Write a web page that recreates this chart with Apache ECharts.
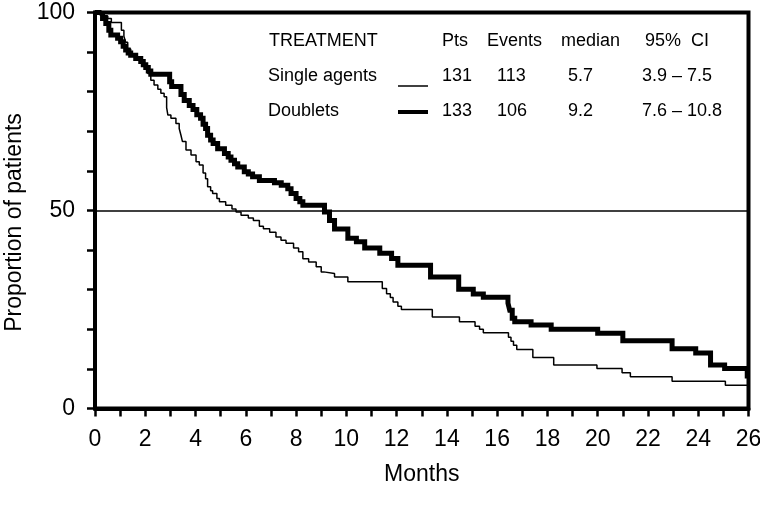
<!DOCTYPE html>
<html>
<head>
<meta charset="utf-8">
<script src="https://cdn.jsdelivr.net/npm/echarts@6/dist/echarts.min.js"></script>
<style>html,body{margin:0;padding:0;background:#fff}#c{width:760px;height:514px}</style>
</head>
<body>
<div id="c"></div>
<script>
// ---- data ----
var singleMonths = [0,0.3,0.5,0.65,1.05,1.15,1.22,1.3,1.42,1.6,1.8,1.95,2.1,2.22,2.35,2.5,2.62,2.75,2.85,2.9,3.02,3.22,3.35,3.42,3.48,3.62,3.82,4.02,4.15,4.3,4.4,4.48,4.6,4.68,4.85,4.95,5.2,5.45,5.61,5.81,6.1,6.3,6.54,6.7,6.95,7.2,7.4,7.6,7.9,8.1,8.27,8.5,8.8,9.0,9.1,9.53,10.06,11.43,11.6,11.75,11.86,12.05,12.19,13.42,14.5,15.12,15.3,15.45,16.45,16.55,16.65,16.78,17.42,18.25,19.97,20.97,21.3,22.96,25.08,26];
var singleSurv = [100,99.2,98.5,97.5,95.5,94,92.5,90.8,89.2,88.4,87.4,86.3,84.6,82.9,81.7,80.6,79.6,78.7,76,74.1,73.3,72,70.7,69,67.4,65.3,64,62.3,61.5,59.5,58,56,55,54.3,53,52.2,51.3,50.4,49.6,48.8,48.1,47.5,46,45.4,44.5,43.3,42.5,41.7,40.5,39.6,37.8,37,35.8,34.5,34.1,33.2,32,30.3,29,28,26.9,25.8,25,23.1,21.9,20.8,20,19.1,18,17,16,14.9,12.9,11,10.1,9.0,8.0,6.9,5.9,5.9];
var doubletMonths = [0,0.2,0.3,0.43,0.55,0.63,0.9,1.02,1.12,1.22,1.32,1.42,1.62,1.82,1.92,2.02,2.12,2.22,2.97,3.05,3.42,3.55,3.75,3.9,4.05,4.2,4.3,4.4,4.48,4.6,4.7,4.88,5.15,5.3,5.41,5.55,5.68,5.94,6.1,6.27,6.54,7.14,7.41,7.67,7.8,8.0,8.15,8.27,9.13,9.33,9.53,10.06,10.4,10.73,11.33,11.8,12.05,13.35,14.47,15.05,15.45,16.43,16.5,16.6,16.7,17.35,18.15,20.0,21.0,22.96,23.9,24.49,25.05,25.95,26];
var doubletSurv = [100,99.5,98.5,97.2,95.5,94.3,93.5,92.6,91.5,90.5,89.8,89.2,88.4,87.6,86.8,86.1,85.2,84.4,82.5,81.3,79.3,77.8,76.5,75.5,74.2,73.3,71.8,70.7,69,67.8,66.9,65.6,64.4,63.5,62.7,61.8,61,59.8,59.2,58.5,57.6,57.0,56.4,55.5,54.3,53.0,52.2,51.3,49.6,47.5,45.3,43.0,42.1,40.5,39.2,37.9,36.2,33.2,30.1,28.9,28.1,26.6,24.8,22.8,21.9,21.1,20.0,19.0,17.1,15.1,14.0,11.0,10.1,8.2,8.2];
var yTickLabels = [0, 50, 100];
var referenceLine = 50;
var tableHeader = ['TREATMENT', 'Pts', 'Events', 'median', '95%  CI'];
var tableSingle = ['Single agents', '131', '113', '5.7', '3.9 \u2013 7.5'];
var tableDoublet = ['Doublets', '133', '106', '9.2', '7.6 \u2013 10.8'];

function pairs(xs, ys){ return xs.map(function(x,i){ return [x, ys[i]]; }); }

var FONT = '"Liberation Sans", Arial, Helvetica, sans-serif';
var chart = echarts.init(document.getElementById('c'), null, {renderer:'canvas'});

var headerX = [269, 442, 487, 561, 645];
var rowX = [268, 442, 497, 568, 642];
var graphics = [];
function addRow(cells, xs, y){
  cells.forEach(function(t,i){
    graphics.push({type:'text', left: xs[i], top: y - 7.5, style:{text:t, font:'18px ' + FONT, fill:'#000'}, z:10});
  });
}
addRow(tableHeader, headerX, 39.5);
addRow(tableSingle, rowX, 75);
addRow(tableDoublet, rowX, 110);
graphics.push({type:'line', shape:{x1:398,y1:86,x2:428,y2:86}, style:{stroke:'#000', lineWidth:1.5}, z:10});
graphics.push({type:'line', shape:{x1:398,y1:112,x2:428,y2:112}, style:{stroke:'#000', lineWidth:4}, z:10});

chart.setOption({
  animation:false,
  backgroundColor:'#fff',
  grid:{left:95, right:11.5, top:12.5, bottom:105.5, outerBoundsMode:'none', containLabel:false,
        show:true, borderColor:'#000', borderWidth:4, backgroundColor:'transparent'},
  xAxis:{
    type:'value', min:0, max:26, interval:1,
    name:'Months', nameLocation:'middle', nameGap:55,
    nameTextStyle:{fontSize:23, fontFamily:FONT, color:'#000'},
    axisLine:{show:true, lineStyle:{color:'#000', width:4}},
    axisTick:{show:true, inside:false, length:8, lineStyle:{color:'#000', width:2.5}},
    axisLabel:{margin:20, fontSize:23, fontFamily:FONT, color:'#000',
      formatter:function(v){ return (v % 2 === 0) ? String(v) : ''; }},
    splitLine:{show:false}
  },
  yAxis:{
    type:'value', min:0, max:100, interval:10,
    name:'Proportion of patients', nameLocation:'middle', nameGap:66, nameRotate:90,
    nameTextStyle:{fontSize:23, fontFamily:FONT, color:'#000', padding:[0,24,0,0]},
    axisLine:{show:true, lineStyle:{color:'#000', width:4}},
    axisTick:{show:true, inside:false, length:8, lineStyle:{color:'#000', width:2.5}},
    axisLabel:{margin:20, fontSize:23, fontFamily:FONT, color:'#000',
      formatter:function(v){ return yTickLabels.indexOf(v) >= 0 ? String(v) : ''; }},
    splitLine:{show:false}
  },
  series:[
    {type:'line', name:'Single agents', step:'end', data:pairs(singleMonths, singleSurv),
     showSymbol:false, symbol:'none', lineStyle:{color:'#000', width:1.5}, z:3,
     markLine:{silent:true, symbol:'none', label:{show:false},
       lineStyle:{color:'#000', width:1.5, type:'solid'}, data:[{yAxis:referenceLine}]}},
    {type:'line', name:'Doublets', step:'end', data:pairs(doubletMonths, doubletSurv),
     showSymbol:false, symbol:'none', lineStyle:{color:'#000', width:5, join:'miter'}, z:4}
  ],
  graphic:graphics
});
</script>
</body>
</html>
